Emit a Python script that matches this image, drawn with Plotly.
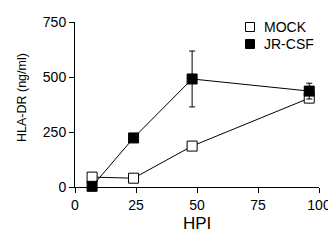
import plotly.graph_objects as go

hpi = [7, 24, 48, 96]
mock = [45, 40, 186, 404]
jrcsf = [3, 223, 491, 436]
jrcsf_err = [0, 0, 127, 36]
x_ticks = [0, 25, 50, 75, 100]
y_ticks = [0, 250, 500, 750]
series_names = ["MOCK", "JR-CSF"]

FONT = "Liberation Sans, Arial, sans-serif"

# page body has an 8px margin; figure is sized so the plot lands where intended
OFF = 8
W, H = 328, 225
ml, mr, mt, mb = 67, 17, 14, 46
PW, PH = W - ml - mr, H - mt - mb


def px(xa):
    return (xa - OFF - ml) / PW


def py(ya):
    return (H - mb - (ya - OFF)) / PH


fig = go.Figure()
fig.add_trace(go.Scatter(x=hpi, y=mock, mode="lines+markers", name=series_names[0],
                         line=dict(color="black", width=1),
                         marker=dict(symbol="square", size=10, color="white",
                                     line=dict(color="black", width=1)),
                         cliponaxis=False))
fig.add_trace(go.Scatter(x=hpi, y=jrcsf, mode="lines+markers", name=series_names[1],
                         line=dict(color="black", width=1),
                         error_y=dict(type="data", array=jrcsf_err, color="black",
                                      thickness=1, width=3),
                         marker=dict(symbol="square", size=10, color="black",
                                     line=dict(color="black", width=1)),
                         cliponaxis=False))

shapes = []
annotations = []
legend_rows = [(series_names[0], "white", 27), (series_names[1], "black", 44)]
for name, fill, yc in legend_rows:
    shapes.append(dict(type="rect", xref="paper", yref="paper",
                       x0=px(245.5), x1=px(254.5), y0=py(yc + 4.5), y1=py(yc - 4.5),
                       fillcolor=fill, line=dict(color="black", width=1)))
    annotations.append(dict(xref="paper", yref="paper", x=px(262), y=py(yc),
                            xanchor="left", yanchor="middle", showarrow=False,
                            text=name, font=dict(size=14, family=FONT, color="black")))

annotations.append(dict(xref="paper", yref="paper", x=px(22), y=py(98),
                        xanchor="center", yanchor="middle", showarrow=False,
                        textangle=-90, text="HLA-DR (ng/ml)",
                        font=dict(size=12.5, family=FONT, color="black")))
annotations.append(dict(xref="paper", yref="paper", x=0.5, y=py(223),
                        xanchor="center", yanchor="middle", showarrow=False,
                        text="HPI", font=dict(size=17, family=FONT, color="black")))

fig.update_layout(
    width=W, height=H,
    margin=dict(l=ml, r=mr, t=mt, b=mb),
    paper_bgcolor="white", plot_bgcolor="white",
    font=dict(family=FONT, color="black", size=14),
    showlegend=False,
    shapes=shapes, annotations=annotations,
)
fig.update_xaxes(range=[0, 100], tickvals=x_ticks, showline=True, linecolor="black",
                 linewidth=1, ticks="outside", ticklen=5, tickcolor="black",
                 showgrid=False, zeroline=False, automargin=False,
                 tickfont=dict(size=14))
fig.update_yaxes(range=[0, 750], tickvals=y_ticks, showline=True, linecolor="black",
                 linewidth=1, ticks="outside", ticklen=5, tickcolor="black",
                 showgrid=False, zeroline=False, automargin=False,
                 tickfont=dict(size=14))

fig.write_html("out.html")
